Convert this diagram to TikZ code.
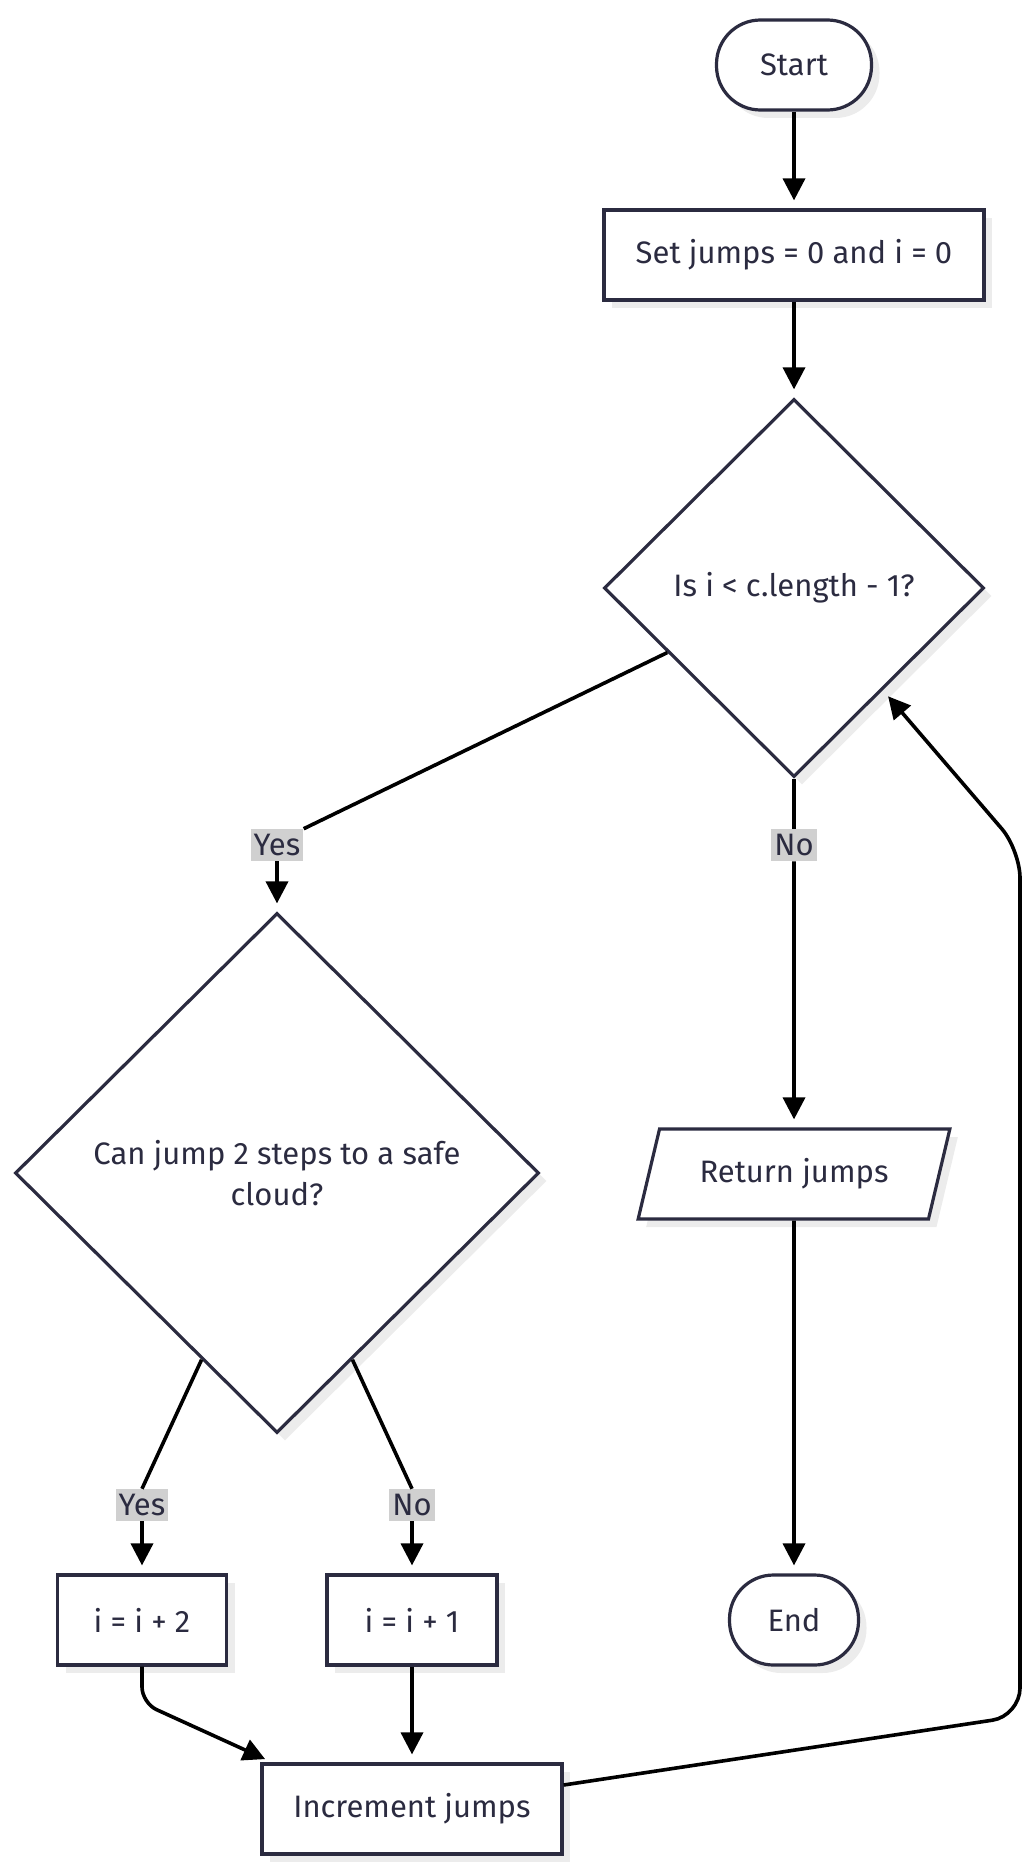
\documentclass[tikz,border=0pt]{standalone}
\usepackage{fontspec}
\setmainfont{Fira Sans}
\usetikzlibrary{shapes.geometric,arrows.meta,shadows}
\definecolor{nodeline}{HTML}{2B2B40}
\definecolor{labelbg}{HTML}{D0D0D0}
\definecolor{shade}{HTML}{ECECEC}
\tikzset{
	base/.style={draw=nodeline, line width=1.6pt, fill=white, text=nodeline, inner sep=0pt,
		drop shadow={shadow xshift=4pt, shadow yshift=-4pt, fill=shade, opacity=1}},
	term/.style={base, rectangle, rounded corners=22pt, minimum height=45pt},
	proc/.style={base, rectangle, minimum height=45pt},
	decide/.style={base, diamond, align=center},
	io/.style={base, trapezium, trapezium left angle=64, trapezium right angle=116,
		trapezium stretches, minimum height=45pt},
	lbl/.style={fill=labelbg, text=nodeline, inner xsep=1.5pt, inner ysep=2.5pt},
	link/.style={draw=black, line width=1.8pt},
	flow/.style={link, -{Triangle[length=11pt,width=11pt]}, shorten >=4pt}
}
\begin{document}
\begin{tikzpicture}[x=0.5pt, y=-0.5pt, font=\fontsize{15.5}{20.5}\selectfont]
	\useasboundingbox (0,0) rectangle (1032,1873);

	\node[term, minimum width=77.5pt] (start) at (794,65) {Start};
	\node[proc, minimum width=190pt] (init) at (794,255) {Set jumps = 0 and i = 0};
	\node[decide, minimum width=190pt, minimum height=189pt] (loop) at (794,588) {Is i < c.length - 1?};
	\node[decide, minimum width=262pt, minimum height=260pt] (safe) at (277,1173) {Can jump 2 steps to a safe\\cloud?};
	\node[io, minimum width=156pt] (ret) at (794,1174) {Return jumps};
	\node[term, minimum width=64.5pt] (end) at (794,1620) {End};
	\node[proc, minimum width=84.5pt] (two) at (142,1620) {i = i + 2};
	\node[proc, minimum width=85pt] (one) at (412,1620) {i = i + 1};
	\node[proc, minimum width=150pt] (inc) at (412,1809) {Increment jumps};

	\node[lbl] (yesA) at (277,845) {Yes};
	\node[lbl] (noA) at (794,845) {No};
	\node[lbl] (yesB) at (142,1505) {Yes};
	\node[lbl] (noB) at (412,1505) {No};

	\draw[flow] (start) -- (init);
	\draw[flow] (init) -- (loop);
	\draw[link] (loop.207) -- (yesA.north east);
	\draw[flow] (yesA) -- (safe);
	\draw[link] (loop.south) -- (noA);
	\draw[flow] (noA) -- (ret);
	\draw[flow] (ret) -- (end);
	\draw[link] (safe.248) -- (yesB.north);
	\draw[flow] (yesB) -- (two);
	\draw[link] (safe.292) -- (noB.north);
	\draw[flow] (noB) -- (one);
	\draw[flow, rounded corners=8pt] (two.south) -- (142,1703) -- ([xshift=6pt]inc.north west);
	\draw[flow] (one) -- (inc);
	\draw[flow, rounded corners=14pt] ([yshift=12pt]inc.east) -- (1020,1716) -- (1020,850) -- (loop.311);

\end{tikzpicture}
\end{document}
